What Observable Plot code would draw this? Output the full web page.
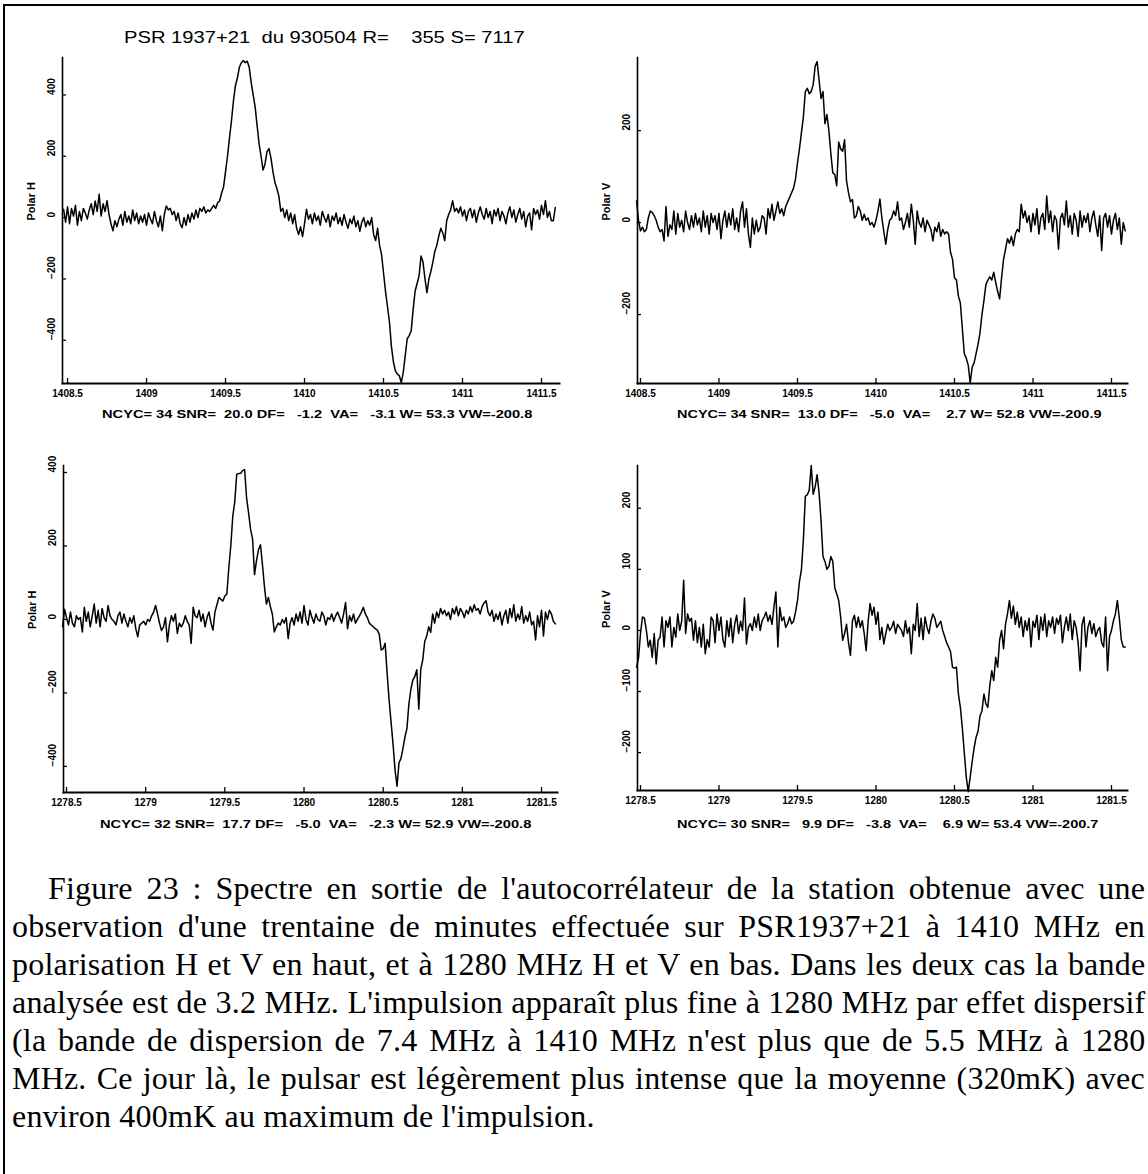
<!DOCTYPE html>
<html><head><meta charset="utf-8">
<script src="https://cdn.jsdelivr.net/npm/d3@7"></script>
<script src="https://cdn.jsdelivr.net/npm/@observablehq/plot@0.6"></script>
<style>
html,body{margin:0;padding:0;background:#fff;}
#page{position:relative;width:1148px;height:1174px;overflow:hidden;background:#fff;font-family:"Liberation Sans",Arial,sans-serif;color:#000;}
.border{position:absolute;left:3px;top:4px;width:1300px;height:1400px;border-left:2px solid #000;border-top:2px solid #000;}
.panel{position:absolute;}
.fit{position:absolute;white-space:pre;transform-origin:0 0;line-height:1;}
.title{font-size:16px;}
.sub{font-size:11px;font-weight:bold;}
.cap{position:absolute;white-space:pre;font-family:"Liberation Serif","Times New Roman",Times,serif;font-size:32px;line-height:32px;letter-spacing:0.2px;}
</style></head><body><div id="page"><div class="border"></div></div>
<script>
// ---------- data ----------
const channelStep = 0.0125;           // MHz per channel
const freqStart1410 = 1408.475;
const freqStart1280 = 1278.475;

const xTicks1410 = [1408.5, 1409, 1409.5, 1410, 1410.5, 1411, 1411.5];
const xTicks1280 = [1278.5, 1279, 1279.5, 1280, 1280.5, 1281, 1281.5];
const yTicksH1410 = [-400, -200, 0, 200, 400];
const yTicksV1410 = [-200, 0, 200];
const yTicksH1280 = [-400, -200, 0, 200, 400];
const yTicksV1280 = [-200, -100, 0, 100, 200];

const polarH1410 = [
  27, -15, 35, -20, 30, 5, 40, -25, 20, -10, 30, 15, -5, 25, 45, 10, 54, 20, 76, 5,
  45, 20, 55, 10, -20, -43, -10, -30, -5, 10, -25, 20, -15, 5, -20, 25, -10, 15, -20, 5,
  -15, 10, -25, 15, -5, -20, 20, -10, -30, 5, -43, 10, 38, 25, 30, 10, 20, -10, 15, -20,
  -33, 0, -25, 10, -15, 15, -5, 25, 0, 30, 20, 35, 15, 25, 20, 30, 40, 30, 48, 54,
  80, 100, 150, 200, 260, 315, 380, 430, 455, 490, 505, 512, 505, 510, 490, 440, 400, 360, 300, 240,
  200, 155, 175, 215, 225, 195, 150, 115, 95, 70, 20, 30, 0, 25, -10, 15, -20, 10, -35, -55,
  -30, -62, -20, 27, -5, 10, -20, 15, -10, 5, -25, 20, 0, -15, 10, -30, 5, -10, 15, -20,
  0, -25, 10, -15, -35, -5, -20, 5, -30, -10, -45, -15, 0, -30, -10, -25, 0, -55, -75, -35,
  -90, -120, -180, -240, -290, -340, -420, -470, -500, -510, -516, -538, -505, -450, -395, -385, -370, -300, -240, -215,
  -190, -125, -145, -200, -245, -200, -175, -145, -110, -90, -60, -35, -50, -75, -10, 10, 25, 55, 20, 30,
  15, 35, 5, 25, -10, 20, 30, 0, 25, -15, 15, 35, 10, -5, 30, 0, 20, -20, 25, 5,
  30, -10, 20, 5, -20, 15, 35, 0, 25, -15, 10, 30, -5, 20, -30, 5, 15, -40, 30, 10,
  25, -5, 40, 10, 55, 0, 20, -10, -10, 33
];
const polarV1410 = [
  47, 5, -18, -10, -20, -15, 10, 25, 22, 15, 5, -10, -20, -15, -40, 35, -30, -5, -15, 25,
  -25, 20, -10, 5, -20, 25, 0, -15, 15, -10, 20, -5, 10, -20, 25, -10, 15, -25, 20, 0,
  15, -15, 20, -35, 5, 25, -10, 20, -5, 30, -15, 10, -20, 25, 45, -10, 30, -25, -54, 10,
  -25, 5, -20, -10, 15, 10, -25, 30, 10, 40, 5, 25, 45, 20, 30, 15, 35, 45, 55, 65,
  75, 95, 130, 160, 195, 230, 285, 292, 280, 285, 300, 340, 350, 310, 270, 285, 215, 235, 200, 150,
  108, 105, 80, 175, 160, 155, 180, 90, 65, 45, 50, 10, 15, 35, 25, 5, 18, 5, 10, -5,
  0, -10, 5, 25, 51, 10, -20, -47, -15, 5, 10, 25, 15, 45, 5, 10, -15, 0, 20, -10,
  40, 5, -47, 25, 0, -10, 10, -20, 5, -5, -15, -40, -10, -20, 0, -30, -15, -25, -20, -25,
  -65, -80, -120, -125, -160, -175, -230, -285, -295, -310, -349, -315, -305, -285, -265, -240, -200, -170, -135, -125,
  -118, -125, -108, -130, -150, -166, -120, -80, -58, -35, -45, -30, -50, -25, -15, -20, 40, 10, 25, 0,
  15, -20, 20, -5, 30, -25, 10, 20, -15, 58, 0, 25, -20, 15, 5, -58, 10, 20, -5, 47,
  -10, 15, -25, 20, 5, -30, 25, -10, 15, 0, 20, -20, 10, 25, -5, -30, 15, -61, 10, 20,
  -10, 15, -25, 5, 20, -15, 10, -47, 0, -18
];
const polarH1280 = [
  -20, 28, 5, -15, 20, -10, -20, 10, 0, 5, -34, 33, -5, 20, -20, 10, 42, -10, 25, -20,
  30, 5, -5, 38, 10, 0, -5, -15, 10, 20, -10, 15, -5, -20, 5, -10, 10, -25, -47, -15,
  -10, -5, -15, 0, -5, 10, 20, 38, 15, -10, -30, -20, 5, -61, -15, 10, -5, 15, -38, -10,
  -20, -10, 10, -5, -15, -65, 33, 10, 5, 25, -5, 15, -20, 5, 20, -10, -29, 20, 40, 60,
  55, 50, 64, 69, 140, 200, 280, 320, 395, 397, 398, 405, 408, 330, 290, 245, 220, 122, 160, 190,
  203, 150, 90, 42, 60, 35, 15, -34, -20, -10, -15, 0, -10, 5, -52, -10, 5, -15, 15, -5,
  20, -10, 38, 0, -15, 25, 5, -10, 15, 0, -5, 20, 10, -15, 5, 0, 15, -5, 10, 20,
  5, -10, 15, 46, -25, 10, -5, 15, -10, 0, 10, 20, 33, 15, 5, -10, -15, -20, -25, -29,
  -40, -83, -80, -65, -146, -220, -280, -340, -410, -454, -390, -378, -351, -320, -297, -230, -190, -165, -155, -137,
  -244, -135, -110, -60, -45, -20, -35, 15, -10, 20, 5, 30, 15, 25, 10, 20, 0, 30, 15, 35,
  10, 30, 20, 5, 25, 15, 35, 20, 40, 25, 30, 15, 35, 45, 51, 20, 10, 25, -5, 15,
  0, 20, -15, 10, 25, -10, 30, 5, 40, -5, 15, 0, 35, -10, 10, -5, 20, -15, -5, -56,
  10, -20, 25, -45, 20, 0, 25, 15, -5, -12
];
const polarV1280 = [
  -60, -45, -5, 22, 20, 0, -27, -16, -44, -5, -55, -16, -11, 22, -27, 16, 5, 22, -27, 5,
  -11, 27, 0, 15, 82, -5, 27, 15, 20, -16, 16, -20, 5, -27, 10, -38, -15, -27, 22, 16,
  -20, 27, 0, 22, -15, -27, 16, -10, 20, -20, 10, 25, -5, 15, 0, 53, -22, 5, 11, 0,
  22, 5, 27, 0, 16, 22, 30, 15, 25, 10, 38, 63, -27, 38, 16, 22, 5, 11, 22, 11,
  15, 30, 49, 80, 99, 148, 220, 222, 230, 270, 223, 235, 255, 225, 180, 121, 113, 100, 105, 121,
  113, 70, 60, 49, 22, -16, -5, 10, -20, -41, 16, 25, 5, 22, 5, 16, -5, -33, 15, 44,
  25, 38, 10, 30, -15, 5, -22, -5, 10, 0, 5, 15, -5, 10, 5, 0, -10, 16, -5, 5,
  -38, 10, 0, 44, -10, 20, -15, 22, 5, -5, 15, 27, 20, 5, 10, 15, 0, -10, -20, -27,
  -35, -60, -62, -60, -104, -126, -160, -200, -240, -264, -240, -215, -192, -175, -165, -140, -132, -104, -120, -126,
  -90, -66, -82, -44, -60, -16, 0, -30, 10, 27, 49, 20, 40, 10, 30, 5, 22, -10, 16, 0,
  20, -27, 15, 5, 25, -15, 22, 0, 27, -10, 16, 5, 22, -5, 20, 10, 25, -20, 5, 22,
  0, 27, -15, 16, 5, -20, -66, 10, 22, -27, 5, 16, -5, 11, -10, 0, 5, -20, -27, 22,
  -66, -10, 0, 16, 27, 49, 20, -15, -27, -27
];

const headerText = "PSR 1937+21  du 930504 R=    355 S= 7117";
const panelSubtitles = [
  "NCYC= 34 SNR=  20.0 DF=   -1.2  VA=   -3.1 W= 53.3 VW=-200.8",
  "NCYC= 34 SNR=  13.0 DF=   -5.0  VA=    2.7 W= 52.8 VW=-200.9",
  "NCYC= 32 SNR=  17.7 DF=   -5.0  VA=   -2.3 W= 52.9 VW=-200.8",
  "NCYC= 30 SNR=   9.9 DF=   -3.8  VA=    6.9 W= 53.4 VW=-200.7"
];
const captionLines = [
  "Figure 23 : Spectre en sortie de l'autocorrélateur de la station obtenue avec une",
  "observation d'une trentaine de minutes effectuée sur PSR1937+21 à 1410 MHz en",
  "polarisation H et V en haut, et à 1280 MHz H et V en bas. Dans les deux cas la bande",
  "analysée est de 3.2 MHz. L'impulsion apparaît plus fine à 1280 MHz par effet dispersif",
  "(la bande de dispersion de 7.4 MHz à 1410 MHz n'est plus que de 5.5 MHz à 1280",
  "MHz. Ce jour là, le pulsar est légèrement plus intense que la moyenne (320mK) avec",
  "environ 400mK au maximum de l'impulsion."
];

// ---------- drawing ----------
const page = document.getElementById("page");
const minus = d => d < 0 ? "\u2212" + Math.abs(d) : String(d);

function panel(o) {
  const data = o.values.map((v, i) => ({f: o.f0 + i * channelStep, v}));
  const m = o.margins;
  const plotH = o.height - m.top - m.bottom;
  const plotW = o.width - m.left - m.right;
  const chart = Plot.plot({
    width: o.width, height: o.height,
    marginLeft: m.left, marginRight: m.right, marginTop: m.top, marginBottom: m.bottom,
    x: {domain: o.xDomain},
    y: {domain: o.yDomain, axis: null},
    style: {fontFamily: "'Liberation Sans', Arial, sans-serif", fontSize: "10px", fontWeight: "bold", background: "transparent", overflow: "visible", color: "#000"},
    marks: [
      Plot.line(data, {x: "f", y: "v", stroke: "#000", strokeWidth: 1.5}),
      Plot.frame({anchor: "left", stroke: "#000", strokeWidth: 1.6}),
      Plot.frame({anchor: "bottom", stroke: "#000", strokeWidth: 2}),
      Plot.ruleX(o.xTicks, {x: d => d, insetTop: plotH - 5, stroke: "#000", strokeWidth: 1.3}),
      Plot.ruleY(o.yTicks, {y: d => d, insetRight: plotW - 4, stroke: "#000", strokeWidth: 1.3}),
      Plot.axisX({ticks: o.xTicks, tickSize: 0, tickPadding: 6, tickFormat: d => String(d), label: null, fill: "#000"}),
      Plot.text(o.yTicks, {y: d => d, frameAnchor: "left", dx: -11, rotate: -90, text: minus, fill: "#000"}),
      Plot.text([o.yLabel], {frameAnchor: "left", dx: -31, rotate: -90, fontSize: 11, fill: "#000"})
    ]
  });
  chart.classList.add("panel");
  chart.style.left = o.left + "px";
  chart.style.top = o.top + "px";
  page.appendChild(chart);
}

panel({values: polarH1410, f0: freqStart1410, xDomain: [1408.468, 1411.614], yDomain: [-541, 522],
  xTicks: xTicks1410, yTicks: yTicksH1410, yLabel: "Polar H",
  left: 0, top: 40, width: 575, height: 372, margins: {left: 62, right: 16, top: 17, bottom: 29}});
panel({values: polarV1410, f0: freqStart1410, xDomain: [1408.481, 1411.602], yDomain: [-350, 359],
  xTicks: xTicks1410, yTicks: yTicksV1410, yLabel: "Polar V",
  left: 574, top: 40, width: 574, height: 372, margins: {left: 63, right: 21, top: 17, bottom: 29}});
panel({values: polarH1280, f0: freqStart1280, xDomain: [1278.481, 1281.601], yDomain: [-471, 419],
  xTicks: xTicks1280, yTicks: yTicksH1280, yLabel: "Polar H",
  left: 0, top: 448, width: 575, height: 372, margins: {left: 63, right: 18, top: 17, bottom: 28}});
panel({values: polarV1280, f0: freqStart1280, xDomain: [1278.481, 1281.602], yDomain: [-262, 270],
  xTicks: xTicks1280, yTicks: yTicksV1280, yLabel: "Polar V",
  left: 574, top: 448, width: 574, height: 372, margins: {left: 63, right: 21, top: 17, bottom: 30}});

function fitText(text, cls, left, centerY, width) {
  const el = document.createElement("div");
  el.className = "fit " + cls;
  el.textContent = text;
  page.appendChild(el);
  const w = el.offsetWidth, h = el.offsetHeight;
  el.style.left = left + "px";
  el.style.top = (centerY - h / 2) + "px";
  el.style.transform = `scaleX(${width / w})`;
}
fitText(headerText, "title", 124, 38, 401);
fitText(panelSubtitles[0], "sub", 102, 414, 430);
fitText(panelSubtitles[1], "sub", 677, 414, 425);
fitText(panelSubtitles[2], "sub", 100, 824, 431);
fitText(panelSubtitles[3], "sub", 677, 824, 422);

// caption, justified line by line
const capRight = 1145, capTop = 872, capStep = 38;
captionLines.forEach((line, i) => {
  const el = document.createElement("div");
  el.className = "cap";
  el.textContent = line;
  const left = i === 0 ? 48 : 12;
  el.style.left = left + "px";
  el.style.top = (capTop + i * capStep) + "px";
  page.appendChild(el);
  if (i < captionLines.length - 1) {
    const spaces = (line.match(/ /g) || []).length;
    const w = el.offsetWidth;
    el.style.wordSpacing = ((capRight - left - w) / spaces) + "px";
  }
});
</script></body></html>
